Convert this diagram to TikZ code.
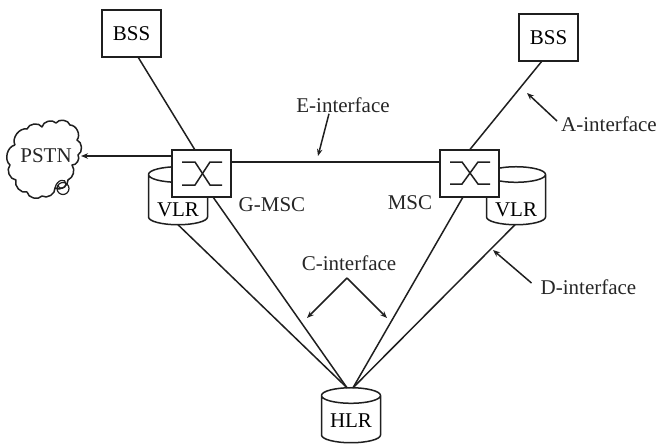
\documentclass[tikz,border=0pt]{standalone}
\usepackage{fontspec}
\setmainfont{Liberation Serif}
\usetikzlibrary{arrows.meta,shapes.geometric}
\tikzset{
  ln/.style={line width=1.5pt,draw=black!88},
  arr/.style={ln,-{Stealth[length=7pt,width=5.5pt]}},
  sq/.style={draw=black!88,line width=1.6pt,fill=white,rectangle,minimum width=59pt,minimum height=47pt,inner sep=0pt,outer sep=0pt},
  drum/.style={draw=black!88,line width=1.5pt,fill=white,cylinder,shape border rotate=90,aspect=0.37,minimum width=59pt,minimum height=58pt,inner sep=0pt,outer sep=0pt},
  lab/.style={inner sep=0pt,text=black!85},
}
\begin{document}
\begin{tikzpicture}[x=1pt,y=-1pt,font=\fontsize{21}{25}\selectfont]
\useasboundingbox (0,0) rectangle (658,444);
% drums
\node[drum] (vlrL) at (178,200) {\smash{\raisebox{-16pt}{VLR}}};
\node[drum] (vlrR) at (516,200) {\smash{\raisebox{-16pt}{VLR}}};
\node[drum,minimum height=55pt] (hlr) at (351,419.5) {\smash{\raisebox{-8pt}{HLR}}};
% boxes
\node[sq] (bssL) at (131.5,33.5) {BSS};
\node[sq] (bssR) at (548.5,37.5) {BSS};
\node[sq] (mscL) at (201.5,173.5) {};
\node[sq] (mscR) at (469.5,173.5) {};
% switch symbols
\draw[ln] (182,162) -- (195,162) -- (210,185) -- (222,185);
\draw[ln] (182,185) -- (195,185) -- (210,162) -- (222,162);
\draw[ln] (450,162) -- (462,162) -- (478,184) -- (490,184);
\draw[ln] (450,184) -- (462,184) -- (478,162) -- (490,162);
% connectors
\draw[ln] ([xshift=6.5pt]bssL.south) -- ([xshift=-6.5pt]mscL.north);
\draw[ln] ([xshift=-6.5pt]bssR.south) -- (mscR.north);
\draw[ln] ([yshift=11.5pt]mscL.east) -- ([yshift=11.5pt]mscR.west);
\draw[ln] ([xshift=11.5pt]mscL.south) -- ([xshift=-4pt]hlr.north);
\draw[ln] ([xshift=-6.5pt]mscR.south) -- ([xshift=2pt]hlr.north);
\draw[ln] ([xshift=0pt]vlrL.south) -- ([xshift=-4pt]hlr.north);
\draw[ln] ([xshift=-1pt]vlrR.south) -- ([xshift=2pt]hlr.north);
% cloud
\draw[ln,line join=round] (15,145)
  to[bend left=65] (27,129) to[bend left=65] (42,127) to[bend left=65] (56,123)
  to[bend left=65] (70,125) to[bend left=65] (77,140) to[bend left=65] (78,155)
  to[bend left=65] (72,165) to[bend left=50] (68,180) to[bend left=65] (55,188)
  to[bend left=65] (42,196) to[bend left=65] (27,192) to[bend left=65] (16,180)
  to[bend left=65] (10,165) to[bend left=65] (15,145);
\draw[ln,line width=1.2pt] (63,188.5) circle (6pt);
\draw[ln,line width=1.2pt] (55,188) .. controls (57,179) and (66,178) .. (66,184) .. controls (66,189) and (58,190) .. (58,185);
\node[lab] (pstn) at (46,156) {PSTN};
\coordinate (cloudE) at (81,156);
\draw[arr] ([yshift=17.5pt]mscL.west) -- (cloudE);
% labels
\node[lab] (einter) at (343,105) {E-interface};
\node[lab] (ainter) at (609,124) {A-interface};
\node[lab] (cinter) at (349,263) {C-interface};
\node[lab] (dinter) at (588.5,287) {D-interface};
\node[lab] (gmsc) at (272,205) {G-MSC};
\node[lab] (mscl) at (410,203) {MSC};
% arrows
\coordinate (eT) at (318,156);
\coordinate (aT) at (527,93);
\coordinate (dT) at (493,250);
\coordinate (cA) at (347,278);
\coordinate (cL) at (307,318);
\coordinate (cR) at (387,318);
\draw[arr] ([xshift=-14pt,yshift=-1pt]einter.south) -- (eT);
\draw[arr] ([xshift=-4pt,yshift=3pt]ainter.west) -- (aT);
\draw[arr] ([xshift=-9pt,yshift=4pt]dinter.west) -- (dT);
\draw[arr] (cA) -- (cL);
\draw[arr] (cA) -- (cR);
\end{tikzpicture}
\end{document}
